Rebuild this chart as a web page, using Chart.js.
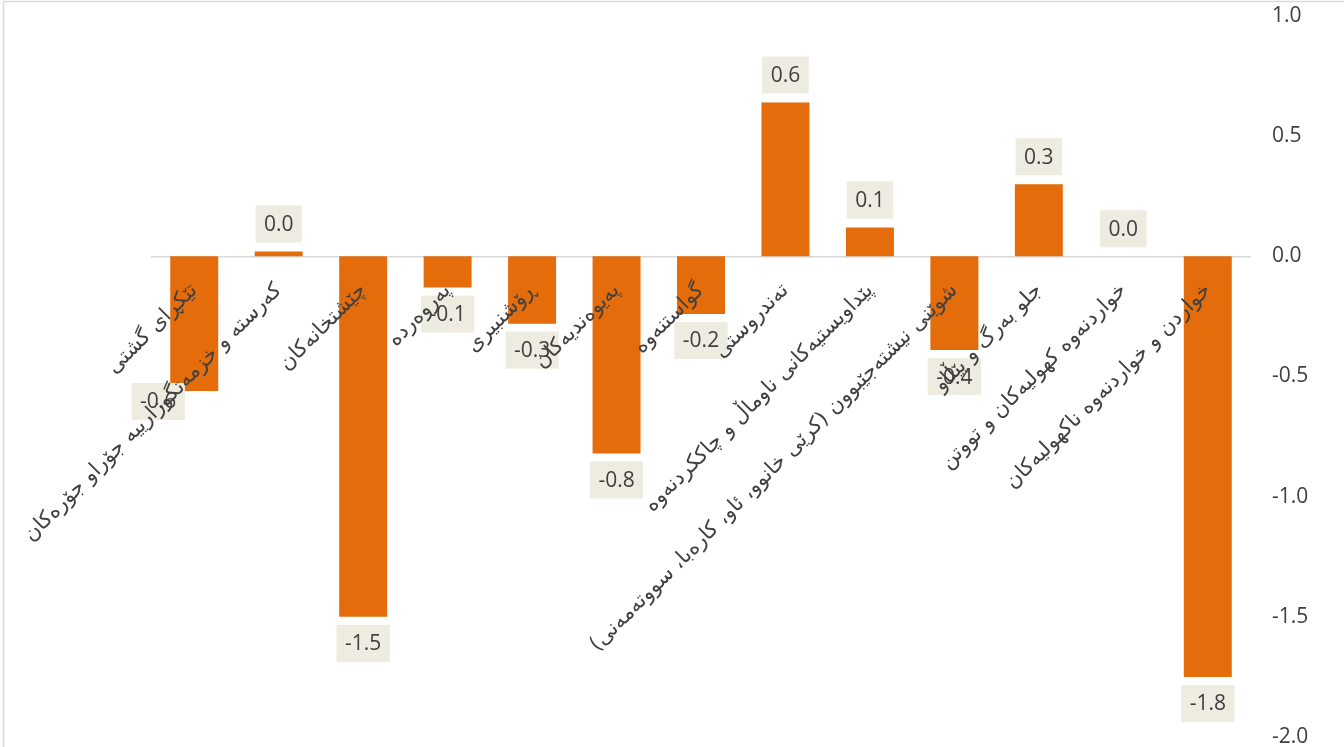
<!DOCTYPE html>
<html>
<head>
<meta charset="utf-8">
<title>chart</title>
<script src="https://cdn.jsdelivr.net/npm/chart.js@4.4.1/dist/chart.umd.min.js"></script>
<style>
  html, body { margin: 0; padding: 0; background: #fff; }
  #wrap { position: relative; width: 1344px; height: 747px; }
</style>
</head>
<body>
<div id="wrap"><canvas id="chart"></canvas></div>
<script>
// categories, read right off the picture (Sorani Kurdish)
const categories = [
  'تێکڕای گشتی',
  'کەرستە و خزمەتگوزارییە جۆراو جۆرەکان',
  'چێشتخانەکان',
  'پەروەردە',
  'ڕۆشنبیری',
  'پەیوەندیەکان',
  'گواستنەوە',
  'تەندروستی',
  'پێداویستیەکانی ناوماڵ و چاککردنەوە',
  'شوێنی نیشتەجێبوون (کرێی خانوو، ئاو، کارەبا، سووتەمەنی)',
  'جلو بەرگ و پێڵاو',
  'خواردنەوە کهولیەکان و تووتن',
  'خواردن و خواردنەوە ناکهولیەکان'
];
const values = [-0.56, 0.02, -1.5, -0.13, -0.28, -0.82, -0.24, 0.64, 0.12, -0.39, 0.30, 0.0, -1.75];
const yTicks = [1.0, 0.5, 0.0, -0.5, -1.0, -1.5, -2.0];

const ORANGE = '#e46c0a';
const TXT = '#404040';
const RLM = '\u200F';

// the first label sits off its bar in the original, keep that
const labelShift = { 0: [-36, -16] };

const frame = {
  id: 'frame',
  beforeDraw(chart) {
    const c = chart.ctx;
    c.save();
    c.strokeStyle = '#d9d9d9';
    c.lineWidth = 1.5;
    c.strokeRect(3.5, 1.5, chart.width + 10, chart.height + 10);
    c.restore();
  }
};

const valueBoxes = {
  id: 'valueBoxes',
  afterDatasetsDraw(chart) {
    const c = chart.ctx;
    const meta = chart.getDatasetMeta(0);
    c.save();
    c.font = '21px "Open Sans"';
    c.textAlign = 'center';
    c.textBaseline = 'middle';
    meta.data.forEach((bar, i) => {
      const v = values[i];
      const txt = v.toFixed(1);
      const w = c.measureText(txt).width + 17;
      const h = 37;
      let cx = bar.x;
      let cy = v >= 0 ? bar.y - 9 - h / 2 : bar.y + 8 + h / 2;
      if (labelShift[i]) { cx += labelShift[i][0]; cy += labelShift[i][1]; }
      c.fillStyle = '#eeece1';
      c.fillRect(cx - w / 2, cy - h / 2, w, h);
      c.fillStyle = TXT;
      c.fillText(txt, cx, cy + 1);
    });
    c.restore();
  }
};

new Chart(document.getElementById('chart'), {
  type: 'bar',
  data: {
    labels: categories.map(l => RLM + l + RLM),
    datasets: [{
      data: values,
      backgroundColor: ORANGE,
      borderWidth: 0,
      barPercentage: 1,
      categoryPercentage: 0.568
    }]
  },
  options: {
    responsive: true,
    maintainAspectRatio: false,
    animation: false,
    layout: { padding: { left: 152, top: 16, right: 0, bottom: 10 } },
    plugins: { legend: { display: false }, tooltip: { enabled: false } },
    scales: {
      x: {
        position: { y: 0 },
        grid: { display: false, drawTicks: false },
        border: { display: true, color: '#d9d9d9', width: 1.5 },
        ticks: {
          z: 1,
          autoSkip: false,
          minRotation: 45,
          maxRotation: 45,
          padding: 22,
          color: TXT,
          font: { family: '"DejaVu Sans"', size: 21 }
        }
      },
      y: {
        position: 'right',
        min: -2,
        max: 1,
        afterBuildTicks: s => { s.ticks = yTicks.map(v => ({ value: v })); },
        afterFit: s => { s.width = 94; s.paddingTop = 0; s.paddingBottom = 0; },
        grid: { display: false, drawTicks: false },
        border: { display: false },
        ticks: {
          padding: 22,
          color: TXT,
          font: { family: '"Open Sans"', size: 21 },
          callback: v => v.toFixed(1)
        }
      }
    }
  },
  plugins: [frame, valueBoxes]
});
</script>
</body>
</html>
